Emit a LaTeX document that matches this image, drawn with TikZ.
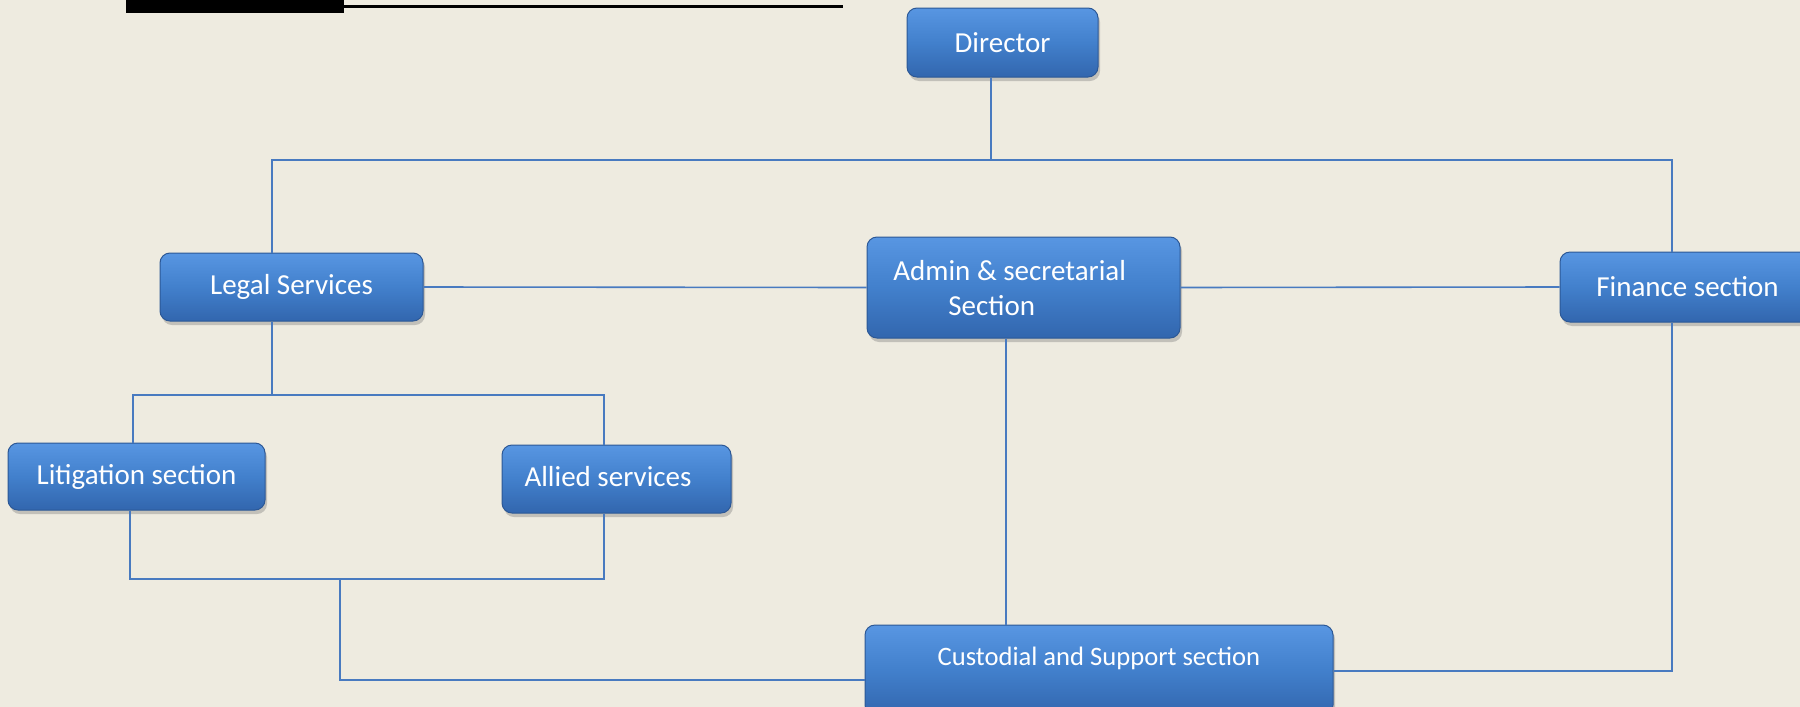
\documentclass[tikz,border=0pt]{standalone}
\usepackage{fontspec}
\setmainfont{Carlito}
\usetikzlibrary{shadows}
\definecolor{bg}{RGB}{238,235,224}
\definecolor{boxtop}{RGB}{88,150,226}
\definecolor{boxbot}{RGB}{50,102,174}
\definecolor{boxedge}{RGB}{44,88,150}
\definecolor{wire}{RGB}{72,122,192}
\tikzset{
  box/.style={rounded corners=5pt, draw=boxedge, line width=0.5pt,
    top color=boxtop, bottom color=boxbot, middle color={rgb,255:red,66;green,128;blue,204},
    drop shadow={opacity=0.4, shadow xshift=1pt, shadow yshift=-2pt},
    inner sep=0pt, text=white, font=\fontsize{14.5}{17}\selectfont},
  txt/.style={inner sep=0pt, text=white, font=\fontsize{14.5}{17}\selectfont},
  wireline/.style={draw=wire, line width=0.8pt},
}
\begin{document}
\begin{tikzpicture}[x=0.5pt,y=-0.5pt]
\useasboundingbox (0,0) rectangle (1800,707);
\clip (0,0) rectangle (1800,707);
\fill[bg] (0,0) rectangle (1800,707);

% title fragment
\fill[black] (126,0) rectangle (344,13);
\draw[black, line width=1.5pt] (344,6.5) -- (843,6.5);

% boxes
\node[box, minimum width=95.5pt, minimum height=34.5pt] (dir) at (1002.5,42.5) {Director};
\node[box, minimum width=131.5pt, minimum height=34pt] (legal) at (291.5,287) {Legal Services};
\node[box, minimum width=156.5pt, minimum height=50.5pt] (admin) at (1023.5,287.5) {};
\node[box, minimum width=127.5pt, minimum height=35pt] (fin) at (1687.5,287) {Finance section};
\node[box, minimum width=128.5pt, minimum height=33.5pt] (lit) at (136.5,476.5) {Litigation section};
\node[box, minimum width=114.5pt, minimum height=34pt] (all) at (616.5,479) {};
\node[box, minimum width=234pt, minimum height=45pt] (cust) at (1099,670) {};

% texts placed off-centre
\node[txt, anchor=base west] (admt1) at (893,280) {Admin \& secretarial};
\node[txt, anchor=base west] (admt2) at (948,315) {Section};
\node[txt, anchor=base] (allt) at (608,486) {Allied services};
\node[txt, anchor=base, font=\fontsize{13.3}{16}\selectfont] (custt) at (1099,665) {Custodial and Support section};

% junction coordinates
\coordinate (dj) at (991,160);
\coordinate (tl) at (272,160);
\coordinate (tr) at (1672,160);
\coordinate (lb) at (272,395);
\coordinate (ll) at (133,395);
\coordinate (lr) at (604,395);
\coordinate (bl) at (130,579);
\coordinate (br) at (604,579);
\coordinate (bm) at (340,579);
\coordinate (bj) at (340,680);
\coordinate (fj) at (1672,671);
\coordinate (ax) at (1006,0);

% connectors
\draw[wireline] (dir.south -| dj) -- (dj);
\draw[wireline] (legal.north -| tl) -- (tl) -- (tr) -- (fin.north -| tr);
\draw[wireline] (legal.east) -- (admin.west);
\draw[wireline] (admin.east) -- (fin.west);
\draw[wireline] (legal.south -| lb) -- (lb);
\draw[wireline] (lit.north -| ll) -- (ll) -- (lr) -- (all.north -| lr);
\draw[wireline] (lit.south -| bl) -- (bl) -- (br) -- (all.south -| br);
\draw[wireline] (bm) -- (bj) -- (cust.west |- bj);
\draw[wireline] (admin.south -| ax) -- (cust.north -| ax);
\draw[wireline] (fin.south -| fj) -- (fj) -- (cust.east |- fj);
\end{tikzpicture}
\end{document}
